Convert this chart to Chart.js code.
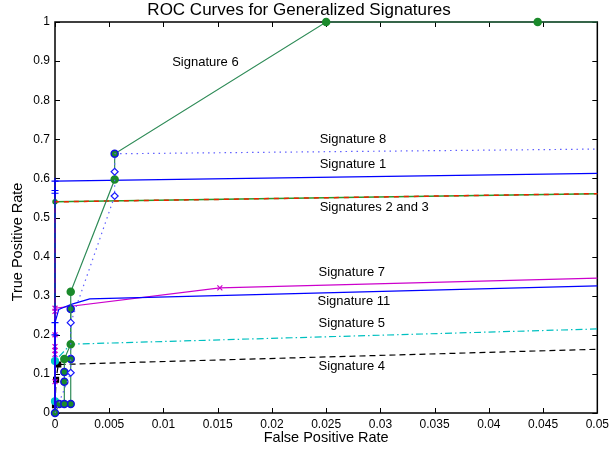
<!DOCTYPE html>
<html>
<head>
<meta charset="utf-8">
<script src="https://cdn.jsdelivr.net/npm/chart.js@4.4.1/dist/chart.umd.min.js"></script>
<style>
  html, body { margin: 0; padding: 0; background: #fff; }
  canvas { display: block; }
</style>
</head>
<body>
<canvas id="roc" width="613" height="450"></canvas>
<script>
const FONT = "'Liberation Sans', Arial, Helvetica, sans-serif";

// Tick values
const X_TICKS = [0, 0.005, 0.01, 0.015, 0.02, 0.025, 0.03, 0.035, 0.04, 0.045, 0.05];
const Y_TICKS = [0, 0.1, 0.2, 0.3, 0.4, 0.5, 0.6, 0.7, 0.8, 0.9, 1];

// ROC points (false positive rate / true positive rate)
const sig1X = [0, 0, 0, 0, 0.05];
const sig1Y = [0, 0.562, 0.569, 0.593, 0.613];

const sig2X = [0, 0, 0.05];
const sig2Y = [0, 0.54, 0.561];

const sig3X = [0, 0, 0.05];
const sig3Y = [0, 0.54, 0.561];

const sig4X = [0, 0, 0.0001, 0.0003, 0.05];
const sig4Y = [0, 0.02, 0.085, 0.124, 0.163];

const sig5X = [0, 0, 0, 0.00145, 0.05];
const sig5Y = [0, 0.03, 0.133, 0.176, 0.215];

const sig6X = [0, 0.0004, 0.00086, 0.00086, 0.00086, 0.00086, 0.00145, 0.00145, 0.0055, 0.0055, 0.025, 0.0445, 0.05];
const sig6Y = [0, 0.023, 0.023, 0.08, 0.105, 0.138, 0.176, 0.31, 0.597, 0.663, 1, 1, 1];

const sig7X = [0, 0, 0, 0, 0, 0, 0, 0, 0.0152, 0.05];
const sig7Y = [0, 0.08, 0.15, 0.16, 0.17, 0.2, 0.26, 0.268, 0.32, 0.345];

const sig8X = [0, 0.00145, 0.00145, 0.0055, 0.0055, 0.0055, 0.05];
const sig8Y = [0, 0.103, 0.231, 0.555, 0.617, 0.663, 0.675];

const sig9X = [0.00145, 0.00145, 0.00145];
const sig9Y = [0.023, 0.138, 0.266];

const sig11X = [0, 0, 0, 0.00035, 0.0015, 0.0032, 0.05];
const sig11Y = [0, 0.2, 0.231, 0.265, 0.278, 0.292, 0.325];

// Curve labels, placed in data coordinates (left edge, vertical middle)
const LABELS = ['Signature 6', 'Signature 8', 'Signature 1', 'Signatures 2 and 3',
    'Signature 7', 'Signature 11', 'Signature 5', 'Signature 4'];
const LABEL_X = [0.0108, 0.0244, 0.0244, 0.0244, 0.0243, 0.0242, 0.0243, 0.0243];
const LABEL_Y = [0.896, 0.700, 0.636, 0.525, 0.359, 0.285, 0.228, 0.120];

function zip(xs, ys) {
    return xs.map((x, i) => ({ x: x, y: ys[i] }));
}

// marker on every point except the last one (the end at x = 0.05)
function noEndMarker(r) {
    return ctx => (ctx.dataIndex === ctx.dataset.data.length - 1 ? 0 : r);
}

const sig6Edge = sig6X.map((x, i) => [0, 1, 2, 3, 4, 9].includes(i) ? '#1010e0' : '#1b8a2b');

const datasets = [
    {
        label: 'Signature 8', data: zip(sig8X, sig8Y),
        borderColor: '#6060ff', borderWidth: 1.2, borderDash: [1.5, 4],
        pointStyle: 'rectRot', pointRadius: ctx => ([1, 2, 3, 4].includes(ctx.dataIndex) ? 3.5 : 0),
        pointBackgroundColor: '#fff', pointBorderColor: '#1a1aff', pointBorderWidth: 1.2,
    },
    {
        label: 'Signature 6', data: zip(sig6X, sig6Y),
        borderColor: '#2e8b57', borderWidth: 1.2,
        pointStyle: 'circle', pointRadius: noEndMarker(3.5),
        pointBackgroundColor: '#1b8a2b', pointBorderColor: sig6Edge, pointBorderWidth: 1.5,
    },
    {
        label: 'Signature 9', data: zip(sig9X, sig9Y),
        borderColor: '#2e8b57', borderWidth: 1.2,
        pointStyle: 'circle', pointRadius: 3.5,
        pointBackgroundColor: '#1b8a2b', pointBorderColor: '#1010e0', pointBorderWidth: 1.5,
    },
    {
        label: 'Signature 1', data: zip(sig1X, sig1Y),
        borderColor: '#0000ff', borderWidth: 1.2,
        pointStyle: 'cross', pointRadius: noEndMarker(3.5),
        pointBorderColor: '#0000ff', pointBorderWidth: 1.2,
    },
    {
        label: 'Signature 11', data: zip(sig11X, sig11Y),
        borderColor: '#0000ff', borderWidth: 1.2,
        pointStyle: 'cross', pointRadius: ctx => ([1, 2].includes(ctx.dataIndex) ? 3.5 : 0),
        pointBorderColor: '#0000ff', pointBorderWidth: 1.2,
    },
    {
        label: 'Signature 7', data: zip(sig7X, sig7Y),
        borderColor: '#cc00cc', borderWidth: 1.2,
        pointStyle: 'crossRot', pointRadius: noEndMarker(3.5),
        pointBorderColor: '#cc00cc', pointBorderWidth: 1.2,
    },
    {
        label: 'Signature 3', data: zip(sig3X, sig3Y),
        borderColor: '#ee2200', borderWidth: 1.5, borderDash: [5, 5],
        pointRadius: 0,
    },
    {
        label: 'Signature 2', data: zip(sig2X, sig2Y),
        borderColor: '#2a9a2a', borderWidth: 1.5,
        pointStyle: 'circle', pointRadius: ctx => (ctx.dataIndex === 1 ? 2 : 0),
        pointBackgroundColor: '#1b8a2b', pointBorderColor: '#1b8a2b',
    },
    {
        label: 'Signature 5', data: zip(sig5X, sig5Y),
        borderColor: '#00c0c0', borderWidth: 1.2, borderDash: [7, 3, 1.5, 3],
        pointStyle: 'circle', pointRadius: ctx => ([1, 2].includes(ctx.dataIndex) ? 3.5 : 0),
        pointBackgroundColor: '#00c8c8', pointBorderColor: '#00c8c8',
    },
    {
        label: 'Signature 4', data: zip(sig4X, sig4Y),
        borderColor: '#000', borderWidth: 1.2, borderDash: [6, 4],
        pointStyle: 'rect', pointRadius: ctx => ([1, 2, 3].includes(ctx.dataIndex) ? 3.5 : 0),
        pointBackgroundColor: '#000', pointBorderColor: '#000',
    },
].map(ds => Object.assign({ showLine: true, fill: false, tension: 0, clip: 8 }, ds));

// MATLAB style box with inward ticks on all four sides, plus the y axis label
const axesBox = {
    id: 'axesBox',
    beforeDatasetsDraw(chart) {
        const { ctx, chartArea: a, scales } = chart;
        ctx.save();
        ctx.strokeStyle = '#000';
        ctx.lineWidth = 1;
        ctx.beginPath();
        X_TICKS.forEach(v => {
            const px = Math.round(scales.x.getPixelForValue(v)) + 0.5;
            ctx.moveTo(px, a.bottom); ctx.lineTo(px, a.bottom - 5);
            ctx.moveTo(px, a.top); ctx.lineTo(px, a.top + 5);
        });
        Y_TICKS.forEach(v => {
            const py = Math.round(scales.y.getPixelForValue(v)) + 0.5;
            ctx.moveTo(a.left, py); ctx.lineTo(a.left + 5, py);
            ctx.moveTo(a.right, py); ctx.lineTo(a.right - 5, py);
        });
        ctx.stroke();
        ctx.lineWidth = 1.5;
        ctx.strokeRect(a.left, a.top, a.right - a.left, a.bottom - a.top);

        // y label sits a bit below the axis middle in the original
        ctx.translate(18, 242);
        ctx.rotate(-Math.PI / 2);
        ctx.font = '14.5px ' + FONT;
        ctx.fillStyle = '#000';
        ctx.textAlign = 'center';
        ctx.textBaseline = 'middle';
        ctx.fillText('True Positive Rate', 0, 0);
        ctx.restore();
    }
};

const curveLabels = {
    id: 'curveLabels',
    afterDatasetsDraw(chart) {
        const { ctx, scales } = chart;
        ctx.save();
        ctx.font = '13px ' + FONT;
        ctx.fillStyle = '#000';
        ctx.textAlign = 'left';
        ctx.textBaseline = 'middle';
        LABELS.forEach((t, i) => {
            ctx.fillText(t, scales.x.getPixelForValue(LABEL_X[i]), scales.y.getPixelForValue(LABEL_Y[i]));
        });
        ctx.restore();
    }
};

new Chart(document.getElementById('roc'), {
    type: 'scatter',
    data: { datasets: datasets },
    plugins: [axesBox, curveLabels],
    options: {
        responsive: false,
        animation: false,
        devicePixelRatio: 1,
        layout: { padding: { left: 0, right: 15, top: 0, bottom: 0 } },
        plugins: {
            legend: { display: false },
            tooltip: { enabled: false },
            title: {
                display: true,
                text: 'ROC Curves for Generalized Signatures',
                color: '#000',
                font: { family: FONT, size: 17, weight: 'normal' },
                padding: { top: 0, bottom: 1.6 },
            },
        },
        scales: {
            x: {
                type: 'linear', min: 0, max: 0.05,
                afterBuildTicks: s => { s.ticks = X_TICKS.map(v => ({ value: v })); },
                afterFit: s => { s.height = 37; },
                ticks: {
                    callback: v => String(v),
                    color: '#000', font: { family: FONT, size: 12 },
                    padding: 4, maxRotation: 0, autoSkip: false,
                },
                grid: { display: false, drawTicks: false },
                border: { display: false },
                title: {
                    display: true, text: 'False Positive Rate', color: '#000',
                    font: { family: FONT, size: 14.5 }, padding: { top: 0, bottom: 3 },
                },
            },
            y: {
                type: 'linear', min: 0, max: 1,
                afterBuildTicks: s => { s.ticks = Y_TICKS.map(v => ({ value: v })); },
                afterFit: s => { s.width = 55; },
                ticks: {
                    callback: v => String(v),
                    color: '#000', font: { family: FONT, size: 12 },
                    padding: 5, autoSkip: false,
                },
                grid: { display: false, drawTicks: false },
                border: { display: false },
            },
        },
    },
});
</script>
</body>
</html>
